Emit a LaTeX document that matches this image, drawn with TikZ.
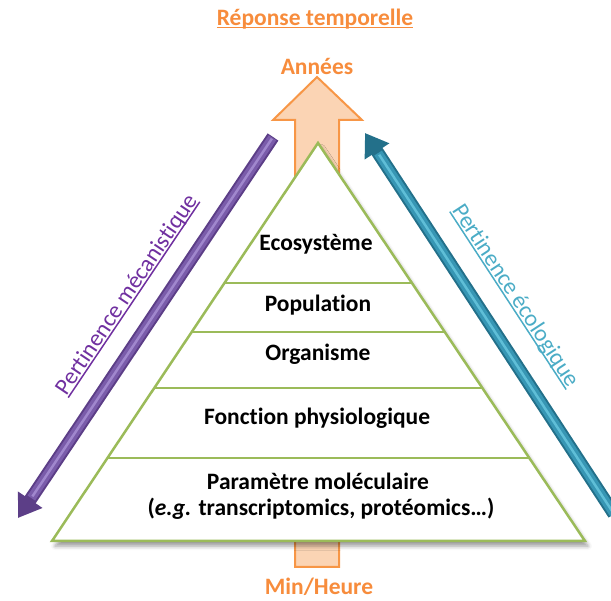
\documentclass[tikz,border=0pt]{standalone}
\usepackage{fontspec}
\setmainfont{Carlito}[Ligatures=NoCommon]
\usetikzlibrary{arrows.meta,shadows.blur,calc}
\definecolor{pgreen}{RGB}{155,187,89}
\definecolor{orline}{RGB}{247,150,70}
\definecolor{orfill}{RGB}{251,212,180}
\definecolor{ortext}{RGB}{247,140,60}
\definecolor{purtext}{RGB}{112,48,160}
\definecolor{purdark}{RGB}{92,62,135}
\definecolor{purmid}{RGB}{122,92,170}
\definecolor{purlight}{RGB}{160,135,205}
\definecolor{tealdark}{RGB}{35,112,138}
\definecolor{tealmid}{RGB}{55,150,180}
\definecolor{teallight}{RGB}{95,190,215}
\definecolor{tealtext}{RGB}{75,172,198}
\newcommand\thickul[1]{\setbox0\hbox{#1}\rlap{\rule[-3pt]{\wd0}{1.5pt}}\box0}
\tikzset{
  lvl/.style={font=\bfseries\fontsize{23.5}{27}\selectfont, text=black},
  ortitle/.style={font=\bfseries\fontsize{23.5}{27}\selectfont, text=ortext},
  sidelabel/.style={font=\fontsize{23.5}{27}\selectfont},
  pyrline/.style={draw=pgreen, line width=2.5pt},
}
\begin{document}
\begin{tikzpicture}[x=1pt,y=-1pt]
\useasboundingbox (0,0) rectangle (611,601);
% time arrow
\draw[orline, fill=orfill, line width=2pt, line join=miter]
  (295,567) -- (295,120) -- (273,120) -- (317,77) -- (362,120) -- (339,120) -- (339,567) -- cycle;
% pyramid
\coordinate (A) at (318,143);
\coordinate (BL) at (52,541);
\coordinate (BR) at (585,541);
\draw[pyrline, fill=white, line join=miter, blur shadow={shadow xshift=3pt, shadow yshift=-5pt, shadow blur radius=4pt, shadow opacity=40}]
  (A) -- (BR) -- (BL) -- cycle;
\foreach \t in {0.3518,0.4749,0.6156,0.7915}{
  \draw[pyrline] ($(A)!\t!(BL)$) -- ($(A)!\t!(BR)$);
}
% level labels
\node[lvl] (eco) at (316,244) {Ecosystème};
\node[lvl] (pop) at (318,305) {Population};
\node[lvl] (org) at (318,354) {Organisme};
\node[lvl] (fon) at (317,418) {Fonction\ physiologique};
\node[lvl] (par) at (318,481) {Paramètre moléculaire};
\node[lvl] (eg) at (321,509) {(\textit{e.g.} transcriptomics, protéomics…)};
% orange labels
\node[ortitle] (rep) at (315,19) {\thickul{Réponse temporelle}};
\node[ortitle] (ann) at (317,66) {Années};
\node[ortitle] (min) at (319,587) {Min/Heure};
% purple arrow
\coordinate (P1) at (273,137);
\coordinate (P2) at (18,518);
\draw[purdark, line width=13pt, -{Triangle[length=22pt,width=28pt]}] (P1) -- (P2);
\draw[purmid, line width=9pt, shorten >=24pt, shorten <=1pt] (P1) -- (P2);
\draw[purlight, line width=2.5pt, shorten >=26pt, shorten <=2pt] (P1) -- (P2);
% teal arrow
\coordinate (T1) at (614,514);
\coordinate (T2) at (365,133);
\draw[tealdark, line width=13pt, -{Triangle[length=22pt,width=28pt]}] (T1) -- (T2);
\draw[tealmid, line width=9pt, shorten >=24pt] (T1) -- (T2);
\draw[teallight, line width=2.5pt, shorten >=26pt] (T1) -- (T2);
% side labels
\node[sidelabel, text=purtext, rotate=56.1] (mec) at (127,295) {\thickul{Pertinence mécanistique}};
\node[sidelabel, text=tealtext, rotate=-56.8] (eco2) at (515,296) {\thickul{Pertinence écologique}};
\end{tikzpicture}
\end{document}
